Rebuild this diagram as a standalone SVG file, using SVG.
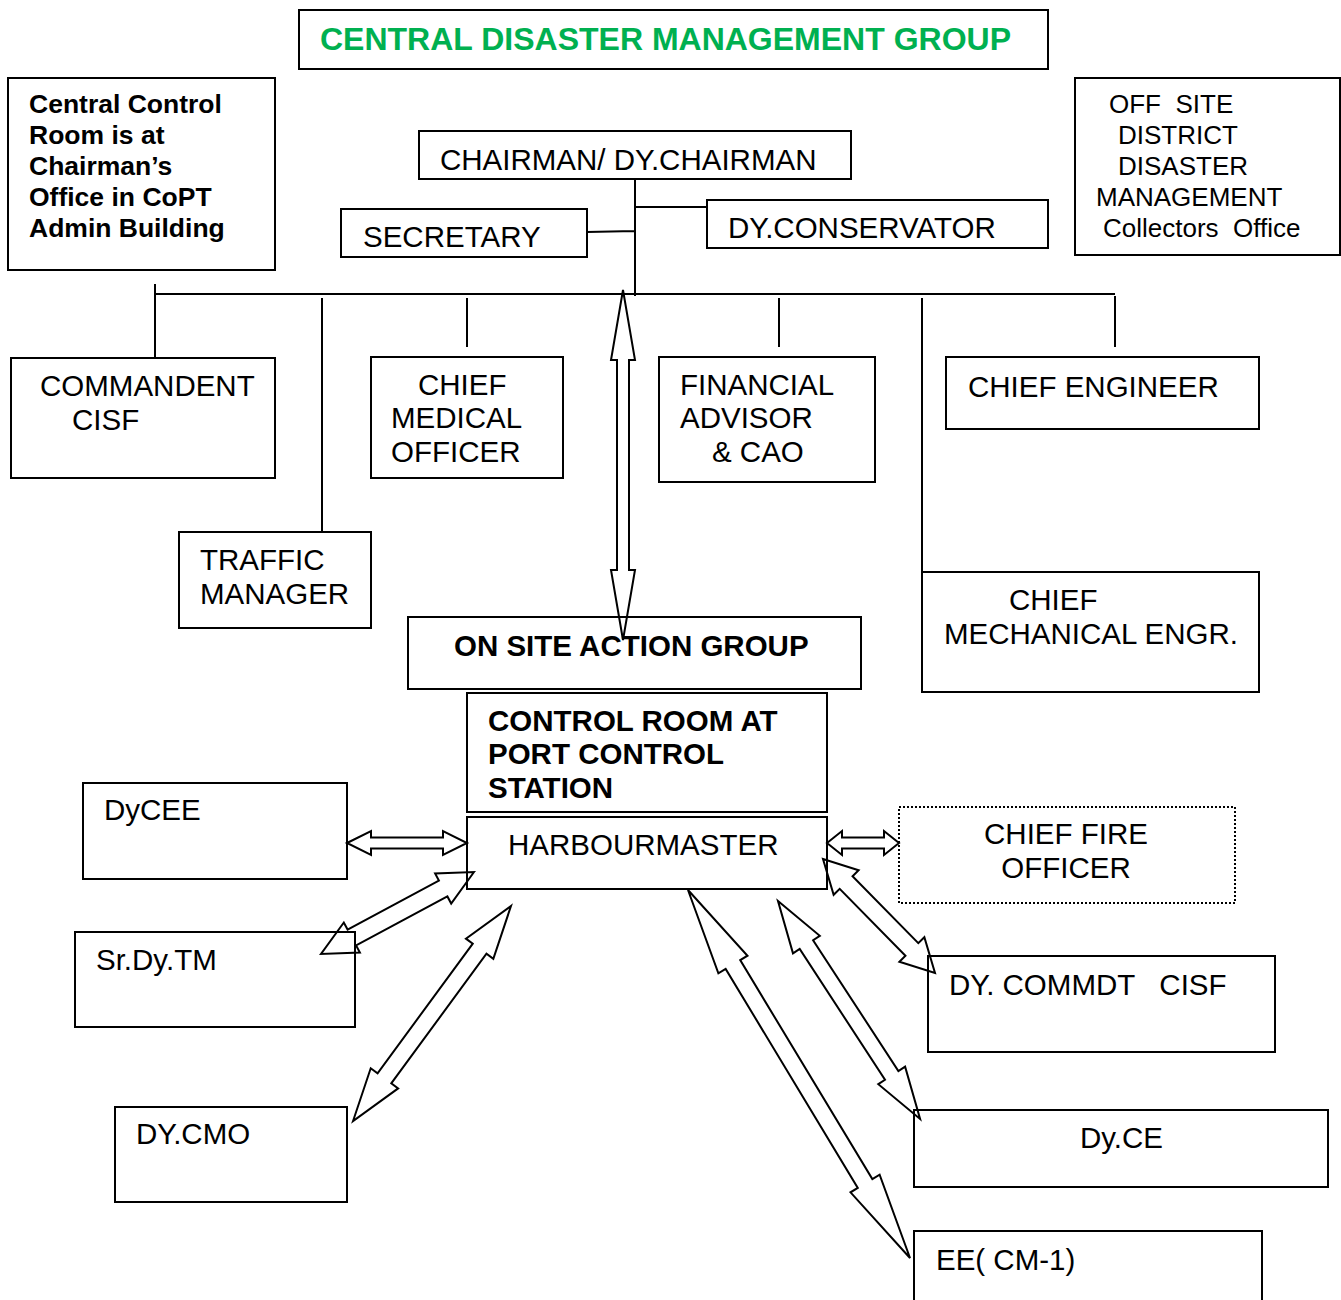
<svg xmlns="http://www.w3.org/2000/svg" width="1341" height="1300" viewBox="0 0 1341 1300">
<style>
.b{fill:#fff;stroke:#000;stroke-width:2}
.d{fill:#fff;stroke:#000;stroke-width:2;stroke-dasharray:2 2}
.t{font-family:"Liberation Sans",Arial,sans-serif;font-size:29.5px;fill:#000}
.s{font-family:"Liberation Sans",Arial,sans-serif;font-size:26px;fill:#000}
.bt{font-family:"Liberation Sans",Arial,sans-serif;font-size:29.5px;font-weight:bold;fill:#000}
.bs{font-family:"Liberation Sans",Arial,sans-serif;font-size:26.5px;font-weight:bold;fill:#000}
.ln{stroke:#000;stroke-width:2;fill:none}
.ar{fill:none;stroke:#000;stroke-width:2;stroke-linejoin:miter}
</style>
<rect width="1341" height="1300" fill="#fff"/>
<g id="title"><rect class="b" x="299" y="10" width="749" height="59"/><text x="320" y="50" font-family="Liberation Sans,Arial,sans-serif" font-size="32" font-weight="bold" fill="#00B050">CENTRAL DISASTER MANAGEMENT GROUP</text></g>
<g id="central-control"><rect class="b" x="8" y="78" width="267" height="192"/><text class="bs" x="29"><tspan x="29" y="113">Central Control</tspan><tspan x="29" y="144">Room is at</tspan><tspan x="29" y="175">Chairman’s</tspan><tspan x="29" y="206">Office in CoPT</tspan><tspan x="29" y="237">Admin Building</tspan></text></g>
<g id="offsite"><rect class="b" x="1075" y="78" width="265" height="177"/><text class="s" xml:space="preserve"><tspan x="1109" y="113">OFF  SITE</tspan><tspan x="1118" y="144">DISTRICT</tspan><tspan x="1118" y="175">DISASTER</tspan><tspan x="1096" y="206">MANAGEMENT</tspan><tspan x="1103" y="237">Collectors  Office</tspan></text></g>
<g id="connectors">
<path class="ln" d="M635 179V296M635 207H707M587 232L635 231M155 294H1115M155 284V358M322 298V532M467 298V347M779 298V347M922 298V572M1115 296V347"/>
</g>
<g id="chairman"><rect class="b" x="419" y="131" width="432" height="48"/><text class="t" x="440" y="170">CHAIRMAN/ DY.CHAIRMAN</text></g>
<g id="secretary"><rect class="b" x="341" y="209" width="246" height="48"/><text class="t" x="363" y="247">SECRETARY</text></g>
<g id="dyconservator"><rect class="b" x="707" y="200" width="341" height="48"/><text class="t" x="728" y="238" font-size="30">DY.CONSERVATOR</text></g>
<g id="commandent"><rect class="b" x="11" y="358" width="264" height="120"/><text class="t"><tspan x="40" y="396">COMMANDENT</tspan><tspan x="72" y="430">CISF</tspan></text></g>
<g id="cmo"><rect class="b" x="371" y="357" width="192" height="121"/><text class="t"><tspan x="418" y="395">CHIEF</tspan><tspan x="391" y="428">MEDICAL</tspan><tspan x="391" y="462">OFFICER</tspan></text></g>
<g id="fa"><rect class="b" x="659" y="357" width="216" height="125"/><text class="t"><tspan x="680" y="395">FINANCIAL</tspan><tspan x="680" y="428">ADVISOR</tspan><tspan x="712" y="462">&amp; CAO</tspan></text></g>
<g id="ce"><rect class="b" x="946" y="357" width="313" height="72"/><text class="t" x="968" y="397" font-size="30">CHIEF ENGINEER</text></g>
<g id="tm"><rect class="b" x="179" y="532" width="192" height="96"/><text class="t"><tspan x="200" y="570">TRAFFIC</tspan><tspan x="200" y="604">MANAGER</tspan></text></g>
<g id="cme"><rect class="b" x="922" y="572" width="337" height="120"/><text class="t"><tspan x="1009" y="610">CHIEF</tspan><tspan x="944" y="644">MECHANICAL ENGR.</tspan></text></g>
<g id="onsite"><rect class="b" x="408" y="617" width="453" height="72"/><text class="bt" x="454" y="656">ON SITE ACTION GROUP</text></g>
<g id="controlroom"><rect class="b" x="467" y="693" width="360" height="119"/><text class="bt"><tspan x="488" y="731">CONTROL ROOM AT</tspan><tspan x="488" y="764">PORT CONTROL</tspan><tspan x="488" y="798">STATION</tspan></text></g>
<g id="harbourmaster"><rect class="b" x="467" y="817" width="360" height="72"/><text class="t" x="508" y="855">HARBOURMASTER</text></g>
<g id="dycee"><rect class="b" x="83" y="783" width="264" height="96"/><text class="t" x="104" y="820">DyCEE</text></g>
<g id="cfo"><rect class="d" x="899" y="807" width="336" height="96"/><text class="t" text-anchor="middle"><tspan x="1066" y="844">CHIEF FIRE</tspan><tspan x="1066" y="878">OFFICER</tspan></text></g>
<g id="srdytm"><rect class="b" x="75" y="932" width="280" height="95"/><text class="t" x="96" y="970">Sr.Dy.TM</text></g>
<g id="dycommdt"><rect class="b" x="928" y="956" width="347" height="96"/><text class="t" x="949" y="995" xml:space="preserve">DY. COMMDT   CISF</text></g>
<g id="dycmo"><rect class="b" x="115" y="1107" width="232" height="95"/><text class="t" x="136" y="1144">DY.CMO</text></g>
<g id="dyce"><rect class="b" x="914" y="1110" width="414" height="77"/><text class="t" x="1080" y="1148">Dy.CE</text></g>
<g id="ee"><rect class="b" x="914" y="1231" width="348" height="90"/><text class="t" x="936" y="1270">EE( CM-1)</text></g>
<g id="arrows">
<polygon class="ar" transform="translate(623,290) rotate(90)" points="0,0 70,-12 70,-6 280,-6 280,-12 350,0 280,12 280,6 70,6 70,12"/>
<polygon class="ar" transform="translate(347,843)" points="0,0 24,-12 24,-5.5 96,-5.5 96,-12 120,0 96,12 96,5.5 24,5.5 24,12"/>
<polygon class="ar" transform="translate(827,843)" points="0,0 15,-12 15,-5.5 57,-5.5 57,-12 72,0 57,12 57,5.5 15,5.5 15,12"/>
<polygon class="ar" transform="translate(474,872) rotate(151.8)" points="0,0 35,-17 35,-9 138.6,-9 138.6,-17 173.6,0 138.6,17 138.6,9 35,9 35,17"/>
<polygon class="ar" transform="translate(511,906) rotate(126.3)" points="0,0 53,-17 53,-8.5 213.8,-8.5 213.8,-17 266.8,0 213.8,17 213.8,8.5 53,8.5 53,17"/>
<polygon class="ar" transform="translate(688,890) rotate(58.9)" points="0,0 87,-17 87,-8.5 342.8,-8.5 342.8,-17 429.8,0 342.8,17 342.8,8.5 87,8.5 87,17"/>
<polygon class="ar" transform="translate(778,901) rotate(56.9)" points="0,0 52,-16 52,-8 208.2,-8 208.2,-16 260.2,0 208.2,16 208.2,8 52,8 52,16"/>
<polygon class="ar" transform="translate(823,859) rotate(45.5)" points="0,0 33,-17.5 33,-9 126.8,-9 126.8,-17.5 159.8,0 126.8,17.5 126.8,9 33,9 33,17.5"/>
</g>
</svg>
